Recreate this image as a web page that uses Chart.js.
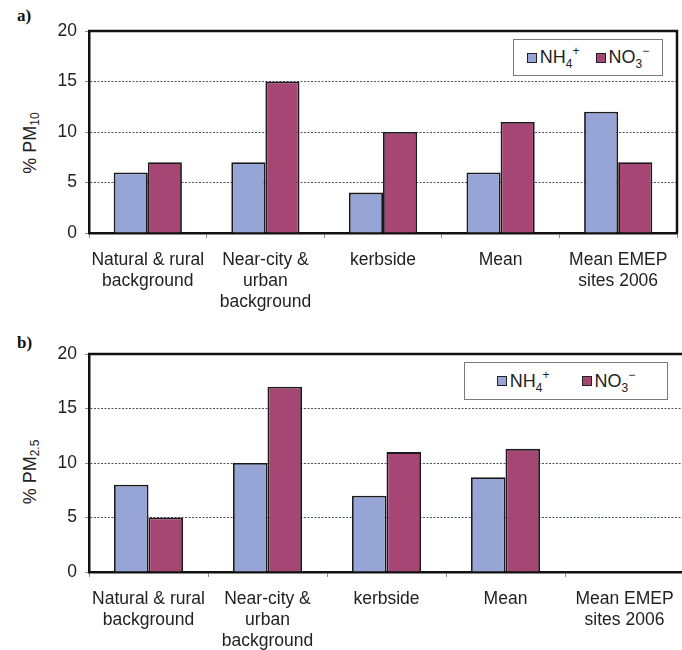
<!DOCTYPE html>
<html>
<head>
<meta charset="utf-8">
<script src="https://cdn.jsdelivr.net/npm/chart.js@4.4.0/dist/chart.umd.min.js"></script>
<style>
  html, body { margin: 0; padding: 0; background: #fff; overflow: hidden; width: 682px; height: 650px; position: relative; }
  canvas { position: absolute; left: 0; }
  .tag { position: absolute; font-family: "Liberation Serif", "Times New Roman", serif; font-weight: bold; font-size: 17px; color: #111; }
  .ytitle { position: absolute; font-family: "Liberation Sans", Arial, sans-serif; font-size: 18px; color: #222;
            white-space: nowrap; transform: translate(-50%, -50%) rotate(-90deg); }
  .ytitle sub { font-size: 12px; vertical-align: -3px; }
  .legend { position: absolute; box-sizing: border-box; border: 1.5px solid #7a7a7a; background: #fff;
            display: flex; align-items: center; justify-content: center;
            font-family: "Liberation Sans", Arial, sans-serif; font-size: 18px; color: #222; }
  .item { display: flex; align-items: center; white-space: nowrap; }
  .swatch { width: 8px; height: 8px; border: 1px solid #222; margin-right: 3px; }
  .item sub { font-size: 12px; vertical-align: -5px; }
  .item sup { font-size: 12px; vertical-align: 8px; }
</style>
</head>
<body>
<div class="tag" style="left:17px; top:6px;">a)</div>
<div class="tag" style="left:17px; top:333px;">b)</div>
<div class="ytitle" style="left:31px; top:143px;">% PM<sub>10</sub></div>
<div class="ytitle" style="left:31px; top:472px;">% PM<sub>2.5</sub></div>
<canvas id="chartA" width="682" height="325" style="top:0px;"></canvas>
<canvas id="chartB" width="700" height="320" style="top:330px;"></canvas>
<div class="legend" id="legendA" style="left:513px; top:39px; width:150px; height:37px; gap:16px;"></div>
<div class="legend" id="legendB" style="left:464px; top:362px; width:204px; height:38px; gap:32px;"></div>

<script>
// Site categories (shared by both panels)
const categories = [
  ['Natural & rural', 'background'],
  ['Near-city &', 'urban', 'background'],
  ['kerbside'],
  ['Mean'],
  ['Mean EMEP', 'sites 2006']
];

// Share of PM10 (%)
const pm10Ammonium = [6, 7, 4, 6, 12];
const pm10Nitrate  = [7, 15, 10, 11, 7];

// Share of PM2.5 (%) – no EMEP value for the fine fraction
const pm25Ammonium = [8, 10, 7, 8.7, null];
const pm25Nitrate  = [5, 17, 11, 11.3, null];

// Series names (plain and with sub/superscripts for the legend)
const seriesNames = ['NH4+', 'NO3−'];
const seriesMarkup = ['NH<sub>4</sub><sup>+</sup>', 'NO<sub>3</sub><sup>−</sup>'];
const seriesColors = ['#97a4d6', '#a54674'];

// Y axis tick values
const yTicks = [0, 5, 10, 15, 20];

const FONT = { family: '"Liberation Sans", Arial, sans-serif', size: 17.5 };

// Top and right edges of the plot frame
const framePlugin = {
  id: 'frame',
  afterDraw(chart) {
    const { ctx, chartArea: a } = chart;
    ctx.save();
    ctx.strokeStyle = '#111';
    ctx.lineWidth = 2.5;
    ctx.beginPath();
    ctx.moveTo(a.left - 1, a.top);
    ctx.lineTo(a.right, a.top);
    ctx.lineTo(a.right, a.bottom);
    ctx.stroke();
    ctx.restore();
  }
};

function makeChart(canvasId, ammonium, nitrate, pad, xHeight) {
  return new Chart(document.getElementById(canvasId), {
    type: 'bar',
    data: {
      labels: categories,
      datasets: [
        { label: seriesNames[0], data: ammonium, backgroundColor: seriesColors[0], borderColor: '#1a1a1a', borderWidth: 1.8 },
        { label: seriesNames[1], data: nitrate,  backgroundColor: seriesColors[1], borderColor: '#1a1a1a', borderWidth: 1.8 }
      ]
    },
    options: {
      responsive: false,
      animation: false,
      devicePixelRatio: 1,
      layout: { padding: pad },
      datasets: { bar: { categoryPercentage: 0.58, barPercentage: 1.0 } },
      plugins: { legend: { display: false }, tooltip: { enabled: false } },
      scales: {
        x: {
          grid: { offset: true, drawOnChartArea: false, drawTicks: true, tickLength: 5, tickColor: '#8a8a8a' },
          border: { display: true, color: '#111', width: 2.5 },
          ticks: { font: FONT, color: '#222', maxRotation: 0, autoSkip: false, padding: 12 },
          afterFit(scale) { scale.height = xHeight; }
        },
        y: {
          min: 0, max: 20,
          afterBuildTicks(scale) { scale.ticks = yTicks.map(v => ({ value: v })); },
          grid: {
            color: c => (c.tick && (c.tick.value === 0 || c.tick.value === 20)) ? 'rgba(0,0,0,0)' : '#4d5560',
            lineWidth: 1,
            tickColor: '#8a8a8a',
            tickLength: 4
          },
          border: { display: true, color: '#111', width: 2.5, dash: [2, 1.5] },
          ticks: { font: FONT, color: '#222', padding: 8 },
          afterFit(scale) { scale.width = 89; }
        }
      }
    },
    plugins: [framePlugin]
  });
}

const chartA = makeChart('chartA', pm10Ammonium, pm10Nitrate, { top: 31, right: 5, left: 0, bottom: 0 }, 92);
const chartB = makeChart('chartB', pm25Ammonium, pm25Nitrate, { top: 24, right: 16, left: 0, bottom: 0 }, 78);

// HTML legends built from each chart's datasets
function buildLegend(chart, id) {
  const box = document.getElementById(id);
  chart.data.datasets.forEach((ds, i) => {
    const item = document.createElement('div');
    item.className = 'item';
    const sw = document.createElement('span');
    sw.className = 'swatch';
    sw.style.background = ds.backgroundColor;
    const txt = document.createElement('span');
    txt.innerHTML = seriesMarkup[i];
    item.appendChild(sw);
    item.appendChild(txt);
    box.appendChild(item);
  });
}
buildLegend(chartA, 'legendA');
buildLegend(chartB, 'legendB');
</script>
</body>
</html>
